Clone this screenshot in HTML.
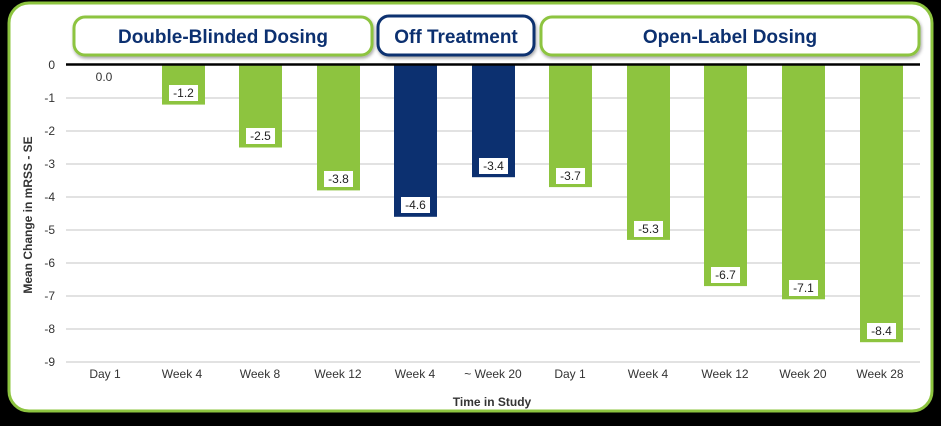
<!DOCTYPE html>
<html><head><meta charset="utf-8"><style>
body{margin:0;background:#000;width:941px;height:421px;overflow:hidden;font-family:"Liberation Sans",sans-serif}
</style></head><body>
<svg width="941" height="421" xmlns="http://www.w3.org/2000/svg" font-family="Liberation Sans, sans-serif">
<defs><filter id="sh" x="-5%" y="-20%" width="110%" height="150%"><feDropShadow dx="1" dy="2" stdDeviation="1.5" flood-opacity="0.35"/></filter></defs>
<rect x="9" y="3" width="923" height="408" rx="20" fill="#fff" stroke="#8dc43f" stroke-width="3"/>
<g filter="url(#sh)">
<rect x="74" y="17" width="298" height="38" rx="11" fill="#fff" stroke="#8dc43f" stroke-width="3"/>
<rect x="378" y="16" width="156" height="39" rx="11" fill="#fff" stroke="#0c3070" stroke-width="3"/>
<rect x="541" y="17" width="378" height="38" rx="11" fill="#fff" stroke="#8dc43f" stroke-width="3"/>
</g>
<g font-weight="bold" font-size="19" fill="#0c3070" text-anchor="middle">
<text x="223" y="43">Double-Blinded Dosing</text>
<text x="456" y="43">Off Treatment</text>
<text x="730" y="43">Open-Label Dosing</text>
</g>
<g stroke="#d9d9d9" stroke-width="1.5">
<line x1="66" x2="920" y1="98" y2="98"/><line x1="66" x2="920" y1="131" y2="131"/>
<line x1="66" x2="920" y1="164" y2="164"/><line x1="66" x2="920" y1="197" y2="197"/>
<line x1="66" x2="920" y1="230" y2="230"/><line x1="66" x2="920" y1="263" y2="263"/>
<line x1="66" x2="920" y1="296" y2="296"/><line x1="66" x2="920" y1="329" y2="329"/>
<line x1="66" x2="920" y1="362" y2="362"/>
</g>
<g font-size="12" fill="#333" text-anchor="end">
<text x="55" y="69">0</text><text x="55" y="102">-1</text><text x="55" y="135">-2</text>
<text x="55" y="168">-3</text><text x="55" y="201">-4</text><text x="55" y="234">-5</text>
<text x="55" y="267">-6</text><text x="55" y="300">-7</text><text x="55" y="333">-8</text>
<text x="55" y="366">-9</text>
</g>
<g>
<rect x="162" y="65" width="43" height="39.6" fill="#8dc43f"/>
<rect x="239" y="65" width="43" height="82.5" fill="#8dc43f"/>
<rect x="317" y="65" width="43" height="125.4" fill="#8dc43f"/>
<rect x="394" y="65" width="43" height="151.8" fill="#0c3070"/>
<rect x="472" y="65" width="43" height="112.2" fill="#0c3070"/>
<rect x="549" y="65" width="43" height="122.1" fill="#8dc43f"/>
<rect x="627" y="65" width="43" height="174.9" fill="#8dc43f"/>
<rect x="704" y="65" width="43" height="221.1" fill="#8dc43f"/>
<rect x="782" y="65" width="43" height="234.3" fill="#8dc43f"/>
<rect x="860" y="65" width="43" height="277.2" fill="#8dc43f"/>
</g>
<line x1="66" x2="920" y1="64.5" y2="64.5" stroke="#000" stroke-width="2.5"/>
<g font-size="12" fill="#222" text-anchor="middle">
<text x="104" y="81" fill="#333">0.0</text>
<rect x="169" y="85" width="29" height="16" fill="#fff"/><text x="183.5" y="97">-1.2</text>
<rect x="246" y="128" width="29" height="16" fill="#fff"/><text x="260.5" y="140">-2.5</text>
<rect x="324" y="171" width="29" height="16" fill="#fff"/><text x="338.5" y="183">-3.8</text>
<rect x="401" y="197" width="29" height="16" fill="#fff"/><text x="415.5" y="209">-4.6</text>
<rect x="479" y="158" width="29" height="16" fill="#fff"/><text x="493.5" y="170">-3.4</text>
<rect x="556" y="168" width="29" height="16" fill="#fff"/><text x="570.5" y="180">-3.7</text>
<rect x="634" y="221" width="29" height="16" fill="#fff"/><text x="648.5" y="233">-5.3</text>
<rect x="711" y="267" width="29" height="16" fill="#fff"/><text x="725.5" y="279">-6.7</text>
<rect x="789" y="280" width="29" height="16" fill="#fff"/><text x="803.5" y="292">-7.1</text>
<rect x="867" y="323" width="29" height="16" fill="#fff"/><text x="881.5" y="335">-8.4</text>
</g>
<g font-size="12" fill="#333" text-anchor="middle">
<text x="105" y="378">Day 1</text><text x="182" y="378">Week 4</text><text x="260" y="378">Week 8</text>
<text x="338" y="378">Week 12</text><text x="415" y="378">Week 4</text><text x="493" y="378">~ Week 20</text>
<text x="570" y="378">Day 1</text><text x="648" y="378">Week 4</text><text x="725" y="378">Week 12</text>
<text x="803" y="378">Week 20</text><text x="880" y="378">Week 28</text>
</g>
<text x="492" y="406" font-size="12" font-weight="bold" fill="#333" text-anchor="middle">Time in Study</text>
<text transform="translate(32,215) rotate(-90)" font-size="12" font-weight="bold" fill="#333" text-anchor="middle">Mean Change in mRSS - SE</text>
</svg>
</body></html>
